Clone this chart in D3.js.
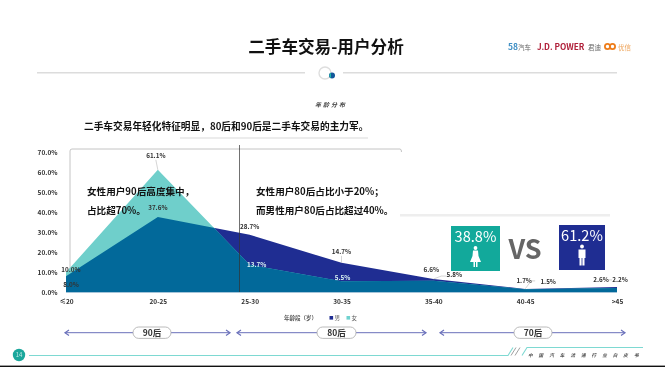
<!DOCTYPE html>
<html>
<head>
<meta charset="utf-8">
<script src="https://cdnjs.cloudflare.com/ajax/libs/d3/7.8.5/d3.min.js"></script>
<style>
  html, body { margin: 0; padding: 0; background: #fff; }
  svg { display: block; filter: blur(0.45px); }
  text { font-family: "Noto Sans CJK SC", "Noto Sans", sans-serif; }
  .axis text { font-size: 6.5px; font-weight: 700; fill: #333; }
  .callout { font-size: 9.6px; font-weight: 700; fill: #111; }
  .val { font-size: 6.3px; font-weight: 700; fill: #333; text-anchor: middle; }
</style>
</head>
<body>
<svg width="665" height="367"></svg>
<script>
const ages = ["≤20", "20-25", "25-30", "30-35", "35-40", "40-45", ">45"];
const male = [8.0, 37.6, 28.7, 14.7, 6.6, 1.7, 2.6];
const female = [10.0, 61.1, 13.7, 5.5, 5.8, 1.5, 2.2];
const yTicks = [0, 10, 20, 30, 40, 50, 60, 70];
const legendNames = ["男", "女"];
const genderShare = [38.8, 61.2];
const generations = ["90后", "80后", "70后"];

const navy = "#1f2d92";
const teal = "#6fcfcb";
const overlap = "#02699a";
const svg = d3.select("svg");

const x = d3.scalePoint().domain(ages).range([66, 617]);
const y = d3.scaleLinear().domain([0, 70]).range([292.3, 152]);

// header
svg.append("text").attr("x", 326).attr("y", 53).attr("text-anchor", "middle")
  .attr("font-size", 16.6).attr("font-weight", 700).attr("fill", "#111").text("二手车交易-用户分析");

svg.append("text").attr("x", 508).attr("y", 49.5).attr("font-size", 8.5).attr("font-weight", 700).attr("fill", "#3f8fc4").text("58");
svg.append("text").attr("x", 518).attr("y", 49.5).attr("font-size", 6.5).attr("fill", "#666").text("汽车");
svg.append("text").attr("x", 537).attr("y", 49.5).attr("font-size", 8.2).attr("font-weight", 700).attr("fill", "#b0203a").text("J.D. POWER");
svg.append("text").attr("x", 588).attr("y", 49.5).attr("font-size", 6.5).attr("fill", "#666").text("君迪");
svg.append("circle").attr("cx", 607.5).attr("cy", 46.5).attr("r", 2.6).attr("fill", "none").attr("stroke", "#ee7d1a").attr("stroke-width", 1.8);
svg.append("circle").attr("cx", 612.5).attr("cy", 46.5).attr("r", 2.6).attr("fill", "none").attr("stroke", "#ee7d1a").attr("stroke-width", 1.8);
svg.append("text").attr("x", 618).attr("y", 49.5).attr("font-size", 6.5).attr("fill", "#eea45a").text("优信");

[[37, 305], [343, 617]].forEach(d => {
  svg.append("line").attr("x1", d[0]).attr("x2", d[1]).attr("y1", 72.7).attr("y2", 72.7)
    .attr("stroke", "#dcdcdc").attr("stroke-width", 1.6);
});
svg.append("circle").attr("cx", 325).attr("cy", 73).attr("r", 6).attr("fill", "#fff").attr("stroke", "#dedede").attr("stroke-width", 1.4);
svg.append("circle").attr("cx", 332).attr("cy", 75.5).attr("r", 3).attr("fill", "#12579b");
svg.append("path").attr("d", "M331 72.8a3 3 0 0 0 0 5.4z").attr("fill", "#23b7a8");

svg.append("text").attr("x", 331).attr("y", 106.5).attr("text-anchor", "middle").attr("font-size", 6)
  .attr("font-weight", 700).attr("font-style", "italic").attr("letter-spacing", 2).attr("fill", "#444").text("年龄分布");

svg.append("rect").attr("x", 180).attr("y", 137).attr("width", 188).attr("height", 2).attr("fill", "#ececec");
svg.append("text").attr("x", 84).attr("y", 130).attr("font-size", 9.7).attr("font-weight", 700).attr("fill", "#111")
  .text("二手车交易年轻化特征明显，80后和90后是二手车交易的主力军。");
svg.append("rect").attr("x", 400).attr("y", 214).attr("width", 210).attr("height", 2.5).attr("fill", "#eeeeee");

// bracket behind the areas
svg.append("path").attr("d", "M70 292V151Q70 149 72 149H400Q401.5 149 401.5 152")
  .attr("fill", "none").attr("stroke", "#bdbdbd").attr("stroke-width", 0.9);

// axes
const yAxis = svg.append("g").attr("class", "axis")
  .attr("transform", "translate(60.5,0)")
  .call(d3.axisLeft(y).tickValues(yTicks).tickSize(0).tickFormat(d => d.toFixed(1) + "%"));
yAxis.select(".domain").remove();

const xAxis = svg.append("g").attr("class", "axis")
  .attr("transform", "translate(0,296)")
  .call(d3.axisBottom(x).tickSize(0));
xAxis.select(".domain").remove();

// areas: the shared part is the female shape clipped by the male one
const area = d3.area()
  .x((d, i) => x(ages[i]))
  .y0(y(0))
  .y1(d => y(d));

svg.append("clipPath").attr("id", "maleClip").append("path").datum(male).attr("d", area);
svg.append("path").datum(male).attr("d", area).attr("fill", navy);
svg.append("path").datum(female).attr("d", area).attr("fill", teal);
svg.append("path").datum(female).attr("d", area).attr("fill", overlap).attr("clip-path", "url(#maleClip)");

// age divider
svg.append("line").attr("x1", 239.5).attr("x2", 239.5).attr("y1", 145).attr("y2", 292)
  .attr("stroke", "#333").attr("stroke-width", 0.7);

// value labels, offsets from the data point
const maleOffset = [[5, 10.5], [0, -6.5], [0, -5.5], [0, -9], [-2, -7.5], [-1, -5.5], [-16, -5]];
const femaleOffset = [[5, 0], [-2, -11.5], [7, 2], [1, -1], [21, -3.7], [23, -5.5], [3, -5.6]];
const fmt = d => d.toFixed(1) + "%";

male.forEach((d, i) => {
  svg.append("text").attr("class", "val")
    .attr("x", x(ages[i]) + maleOffset[i][0]).attr("y", y(d) + maleOffset[i][1]).text(fmt(d));
});
female.forEach((d, i) => {
  svg.append("text").attr("class", "val")
    .attr("x", x(ages[i]) + femaleOffset[i][0]).attr("y", y(d) + femaleOffset[i][1])
    .style("fill", i === 2 || i === 3 ? "#d8f2f2" : null)
    .text(fmt(d));
});

// leader lines
const leaders = [
  [x(ages[1]) - 2, y(61.1) - 10, x(ages[1]), y(61.1)],
  [x(ages[3]), y(14.7) - 7, x(ages[3]), y(14.7)],
  [x(ages[4]), y(6.6), x(ages[4]) + 8, y(6.6) - 3],
  [x(ages[4]) + 8, y(6.6) - 3, x(ages[4]) + 13, y(6.6) - 3],
  [x(ages[5]), y(1.7), x(ages[5]) + 6, y(1.7) - 8],
  [x(ages[5]) + 6, y(1.7) - 8, x(ages[5]) + 10, y(1.7) - 8],
  [x(ages[6]) - 8.5, y(2.2) - 8, x(ages[6]) - 5, y(2.2) - 8]
];
svg.selectAll(".leader").data(leaders).join("line").attr("class", "leader")
  .attr("x1", d => d[0]).attr("y1", d => d[1]).attr("x2", d => d[2]).attr("y2", d => d[3])
  .attr("stroke", "#aaa").attr("stroke-width", 0.5);

// callouts
svg.append("text").attr("class", "callout").attr("x", 87).attr("y", 195).text("女性用户90后高度集中，");
svg.append("text").attr("class", "callout").attr("x", 87).attr("y", 214).text("占比超70%。");
svg.append("text").attr("class", "callout").attr("x", 256).attr("y", 195).text("女性用户80后占比小于20%；");
svg.append("text").attr("class", "callout").attr("x", 256).attr("y", 214).text("而男性用户80后占比超过40%。");

// gender share cards
const cards = [
  { left: 451, top: 226, w: 49, h: 45, color: "#12a99b" },
  { left: 559, top: 225, w: 46, h: 45, color: navy }
];
cards.forEach((c, i) => {
  const g = svg.append("g").attr("transform", `translate(${c.left},${c.top})`);
  g.append("rect").attr("width", c.w).attr("height", c.h).attr("fill", c.color);
  g.append("text").attr("x", c.w / 2).attr("y", 16).attr("text-anchor", "middle")
    .attr("font-size", 14.6).attr("font-family", "'Noto Sans', sans-serif").attr("fill", "#fff")
    .text(genderShare[i].toFixed(1) + "%");
  const cx = c.w / 2;
  g.append("circle").attr("cx", cx).attr("cy", i ? 21.5 : 22).attr("r", 1.9).attr("fill", "#fff");
  if (i === 0) {
    g.append("path").attr("fill", "#fff")
      .attr("d", `M${cx - 2.5} 24.5H${cx + 2.5}L${cx + 3} 30L${cx + 5.5} 36H${cx + 2}V41H${cx + 0.5}V36H${cx - 0.5}V41H${cx - 2}V36H${cx - 5.5}L${cx - 3} 30Z`);
  } else {
    g.append("path").attr("fill", "#fff")
      .attr("d", `M${cx - 3.5} 24.5H${cx + 3.5}V33H${cx + 2.5}V40.5H${cx + 0.4}V33H${cx - 0.4}V40.5H${cx - 2.5}V33H${cx - 3.5}Z`);
  }
});
svg.append("text").attr("x", 525).attr("y", 259).attr("text-anchor", "middle")
  .attr("font-size", 27).attr("font-weight", 700).attr("font-family", "'Noto Sans', sans-serif").attr("fill", "#666").text("VS");

// legend
svg.append("text").attr("x", 284).attr("y", 320).attr("font-size", 5.5).attr("font-weight", 700).attr("fill", "#555").text("年龄段（岁）");
legendNames.forEach((name, i) => {
  const lx = 329.5 + i * 17;
  svg.append("rect").attr("x", lx).attr("y", 316).attr("width", 3.6).attr("height", 3.6).attr("fill", i ? "#6fd2cf" : navy);
  svg.append("text").attr("x", lx + 5).attr("y", 320.3).attr("font-size", 5.5).attr("fill", "#555").text(name);
});

// generation brackets
const spans = [
  { from: 65, to: 230, pillL: 133, pillR: 171 },
  { from: 237, to: 426, pillL: 317, pillR: 356 },
  { from: 440, to: 625, pillL: 514, pillR: 552 }
];
const ay = 332.7;
spans.forEach((s, i) => {
  svg.append("line").attr("x1", s.from).attr("x2", s.to).attr("y1", ay).attr("y2", ay)
    .attr("stroke", "#6a70bb").attr("stroke-width", 1);
  svg.append("path").attr("fill", "none").attr("stroke", "#6a70bb").attr("stroke-width", 1.2)
    .attr("d", `M${s.from + 4} ${ay - 2.7}L${s.from} ${ay}L${s.from + 4} ${ay + 2.7}M${s.to - 4} ${ay - 2.7}L${s.to} ${ay}L${s.to - 4} ${ay + 2.7}`);
  svg.append("rect").attr("x", s.pillL).attr("y", ay - 5.7).attr("width", s.pillR - s.pillL).attr("height", 11.4)
    .attr("rx", 5.7).attr("fill", "#fff").attr("stroke", "#a9a9a9").attr("stroke-width", 0.8);
  svg.append("text").attr("x", (s.pillL + s.pillR) / 2).attr("y", ay + 3.2).attr("text-anchor", "middle")
    .attr("font-size", 8.5).attr("font-weight", 700).attr("fill", "#333").text(generations[i]);
});

// footer
svg.append("circle").attr("cx", 19).attr("cy", 355).attr("r", 6.2).attr("fill", "#1aa79c");
svg.append("text").attr("x", 19).attr("y", 357.2).attr("text-anchor", "middle").attr("font-size", 6).attr("fill", "#bfe9e5").text("14");
svg.append("path").attr("fill", "none").attr("stroke", "#7ed9d2").attr("stroke-width", 1.1)
  .attr("d", "M29 355.5H508L513 347.5M522 355.5L527 347.5H643");
svg.append("path").attr("fill", "none").attr("stroke", "#777").attr("stroke-width", 0.7)
  .attr("d", "M511 355.5L516 347.5M515 355.5L520 347.5");
svg.append("text").attr("x", 528).attr("y", 356.5).attr("font-size", 4.6).attr("font-weight", 700).attr("font-style", "italic")
  .attr("letter-spacing", 6).attr("fill", "#555").text("中国汽车流通行业白皮书");
svg.append("rect").attr("x", 0).attr("y", 365.6).attr("width", 665).attr("height", 1.4).attr("fill", "#111");
</script>
</body>
</html>
